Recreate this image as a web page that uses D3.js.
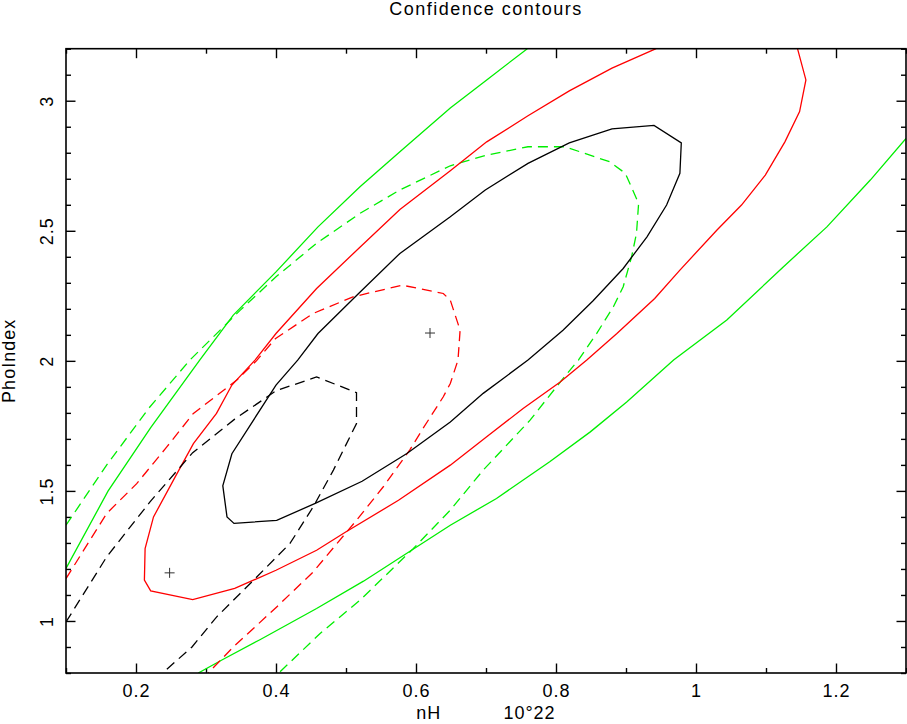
<!DOCTYPE html>
<html>
<head>
<meta charset="utf-8">
<script src="https://cdn.jsdelivr.net/npm/d3@7"></script>
<style>
  body { margin: 0; background: #fff; }
  text { font-family: "Liberation Sans", Arial, sans-serif; fill: #000; }
</style>
</head>
<body>
<svg id="chart" width="907" height="724"></svg>
<script>
// contour data, [nH, PhoIndex]
var blackSolid = [
  [0.431,2.003],[0.460,2.105],[0.518,2.259],[0.577,2.413],[0.649,2.554],[0.699,2.657],
  [0.760,2.759],[0.819,2.838],[0.880,2.892],[0.940,2.905],[0.979,2.838],[0.977,2.721],
  [0.958,2.599],[0.930,2.477],[0.896,2.355],[0.853,2.231],[0.810,2.118],[0.760,2.003],
  [0.696,1.875],[0.649,1.765],[0.587,1.644],[0.523,1.537],[0.456,1.452],[0.401,1.387],
  [0.340,1.375],[0.330,1.400],[0.324,1.520],[0.337,1.643],[0.400,1.907],[0.431,2.003]
];
var blackDashed = [
  [0.100,0.996],[0.158,1.246],[0.220,1.458],[0.281,1.647],[0.341,1.776],[0.400,1.885],
  [0.458,1.938],[0.515,1.878],[0.515,1.759],[0.482,1.580],[0.453,1.438],[0.420,1.298],
  [0.368,1.157],[0.315,1.015],[0.280,0.900],[0.238,0.800]
];
var redSolid = [
  [0.943,3.200],[0.880,3.125],[0.819,3.038],[0.760,2.942],[0.701,2.842],[0.649,2.731],
  [0.577,2.582],[0.518,2.432],[0.458,2.278],[0.400,2.105],[0.370,2.003],[0.337,1.907],
  [0.315,1.798],[0.282,1.682],[0.256,1.554],[0.225,1.400],[0.213,1.278],[0.212,1.157],
  [0.221,1.116],[0.281,1.082],[0.341,1.125],[0.400,1.195],[0.458,1.272],[0.499,1.341],
  [0.575,1.464],[0.649,1.599],[0.701,1.708],[0.753,1.817],[0.806,1.919],[0.844,2.003],
  [0.887,2.105],[0.941,2.240],[0.977,2.349],[1.030,2.503],[1.065,2.599],[1.099,2.714],
  [1.127,2.842],[1.148,2.958],[1.157,3.080],[1.145,3.200]
];
var redDashed = [
  [0.100,1.163],[0.158,1.413],[0.201,1.528],[0.244,1.669],[0.282,1.798],[0.344,1.926],
  [0.372,2.000],[0.399,2.085],[0.453,2.182],[0.510,2.246],[0.580,2.291],[0.639,2.259],
  [0.649,2.233],[0.663,2.118],[0.660,2.003],[0.649,1.913],[0.639,1.862],[0.610,1.740],
  [0.591,1.657],[0.553,1.515],[0.515,1.387],[0.499,1.336],[0.453,1.188],[0.401,1.054],
  [0.339,0.900],[0.303,0.800]
];
var greenSolidUpper = [
  [0.100,1.202],[0.160,1.499],[0.221,1.743],[0.291,2.003],[0.339,2.176],[0.400,2.342],
  [0.460,2.515],[0.520,2.669],[0.577,2.804],[0.649,2.972],[0.701,3.080],[0.759,3.200]
];
var greenSolidLower = [
  [0.289,0.800],[0.322,0.849],[0.377,0.928],[0.458,1.048],[0.525,1.153],[0.577,1.243],
  [0.649,1.368],[0.715,1.471],[0.791,1.612],[0.849,1.727],[0.901,1.842],[0.968,2.003],
  [1.044,2.157],[1.125,2.362],[1.187,2.515],[1.249,2.695],[1.300,2.855]
];
var greenDashed = [
  [0.100,1.368],[0.158,1.599],[0.218,1.817],[0.277,2.003],[0.349,2.195],[0.400,2.323],
  [0.458,2.452],[0.520,2.567],[0.577,2.657],[0.649,2.750],[0.701,2.791],[0.760,2.823],
  [0.813,2.823],[0.877,2.765],[0.899,2.721],[0.918,2.605],[0.915,2.490],[0.908,2.400],
  [0.896,2.285],[0.882,2.208],[0.858,2.105],[0.832,2.003],[0.810,1.932],[0.763,1.772],
  [0.696,1.580],[0.649,1.426],[0.596,1.278],[0.520,1.080],[0.463,0.952],[0.404,0.800]
];
var bestFits = [[0.620,2.107],[0.248,1.185]];

var xMajorTicks = [0.2,0.4,0.6,0.8,1,1.2];
var xMinorTicks = [0.1,0.3,0.5,0.7,0.9,1.1,1.3];
var yMajorTicks = [1,1.5,2,2.5,3];
var yMinorTicks = [0.8,0.9,1.1,1.2,1.3,1.4,1.6,1.7,1.8,1.9,2.1,2.2,2.3,2.4,2.6,2.7,2.8,2.9,3.1,3.2];

var svg = d3.select("#chart");
var pLeft = 66, pRight = 906, pTop = 48.7, pBottom = 673;

var x = d3.scaleLinear().domain([0.1,1.3]).range([pLeft,pRight]);
var y = d3.scaleLinear().domain([0.8,3.2]).range([pBottom,pTop]);

svg.append("defs").append("clipPath").attr("id","plotclip")
  .append("rect").attr("x",pLeft).attr("y",pTop)
  .attr("width",pRight-pLeft).attr("height",pBottom-pTop);

// axes, ticks pointing into the box
function addAxis(axisFn, scale, ticks, size, tr, labels) {
  var a = axisFn(scale).tickValues(ticks).tickSizeInner(-size).tickSizeOuter(0).tickPadding(11);
  a.tickFormat(labels ? String : "");
  var g = svg.append("g").attr("transform", tr).call(a);
  g.attr("font-size",null).attr("font-family",null);
  g.select(".domain").remove();
  g.selectAll(".tick line").attr("stroke","#000").attr("stroke-width",1.4);
  return g;
}

var xb = addAxis(d3.axisBottom, x, xMajorTicks, 9.5, "translate(0," + pBottom + ")", true);
xb.selectAll("text").attr("font-size",18).attr("dy",null).attr("y",24)
  .style("letter-spacing","1px");
addAxis(d3.axisBottom, x, xMinorTicks, 5, "translate(0," + pBottom + ")", false);
addAxis(d3.axisTop, x, xMajorTicks, 9.5, "translate(0," + pTop + ")", false);
addAxis(d3.axisTop, x, xMinorTicks, 5, "translate(0," + pTop + ")", false);

var yl = addAxis(d3.axisLeft, y, yMajorTicks, 9.5, "translate(" + pLeft + ",0)", true);
yl.selectAll("text")
  .attr("font-size",18).attr("dy",null).attr("x",0).attr("y",-13.5)
  .attr("text-anchor","middle").attr("transform","rotate(-90)")
  .style("letter-spacing","1px");
addAxis(d3.axisLeft, y, yMinorTicks, 5, "translate(" + pLeft + ",0)", false);
addAxis(d3.axisRight, y, yMajorTicks, 9.5, "translate(" + pRight + ",0)", false);
addAxis(d3.axisRight, y, yMinorTicks, 5, "translate(" + pRight + ",0)", false);

// contours
var line = d3.line().x(function(d){ return x(d[0]); }).y(function(d){ return y(d[1]); });
var plot = svg.append("g").attr("clip-path","url(#plotclip)");

var curves = [
  {data: greenSolidUpper, color: "#00ee00", dash: null},
  {data: greenSolidLower, color: "#00ee00", dash: null},
  {data: greenDashed, color: "#00ee00", dash: "10,6"},
  {data: redSolid, color: "#ff0000", dash: null},
  {data: redDashed, color: "#ff0000", dash: "10,6"},
  {data: blackSolid, color: "#000000", dash: null},
  {data: blackDashed, color: "#000000", dash: "10,6"}
];
curves.forEach(function(c){
  plot.append("path")
    .attr("d", line(c.data))
    .attr("fill","none")
    .attr("stroke", c.color)
    .attr("stroke-width",1.3)
    .attr("stroke-dasharray", c.dash);
});

// best fit markers
plot.selectAll(".bf").data(bestFits).enter().append("path")
  .attr("class","bf")
  .attr("d", function(d){
    var cx = x(d[0]), cy = y(d[1]);
    return "M" + (cx-5) + "," + cy + "H" + (cx+5) + "M" + cx + "," + (cy-5) + "V" + (cy+5);
  })
  .attr("stroke","#333").attr("stroke-width",1);

// frame
svg.append("rect").attr("x",pLeft).attr("y",pTop)
  .attr("width",pRight-pLeft).attr("height",pBottom-pTop)
  .attr("fill","none").attr("stroke","#000").attr("stroke-width",1.6);

// titles
svg.append("text").attr("x",(pLeft+pRight)/2).attr("y",15)
  .attr("text-anchor","middle").attr("font-size",18).style("letter-spacing","1.5px")
  .text("Confidence contours");

var xt = svg.append("text").attr("x",(pLeft+pRight)/2).attr("y",719)
  .attr("text-anchor","middle").attr("font-size",18).style("letter-spacing","1px");
xt.append("tspan").text("nH");
xt.append("tspan").attr("dx",62).text("10°22");

svg.append("text")
  .attr("transform","translate(15," + ((pTop+pBottom)/2) + ") rotate(-90)")
  .attr("text-anchor","middle").attr("font-size",18).style("letter-spacing","1px")
  .text("PhoIndex");
</script>
</body>
</html>
